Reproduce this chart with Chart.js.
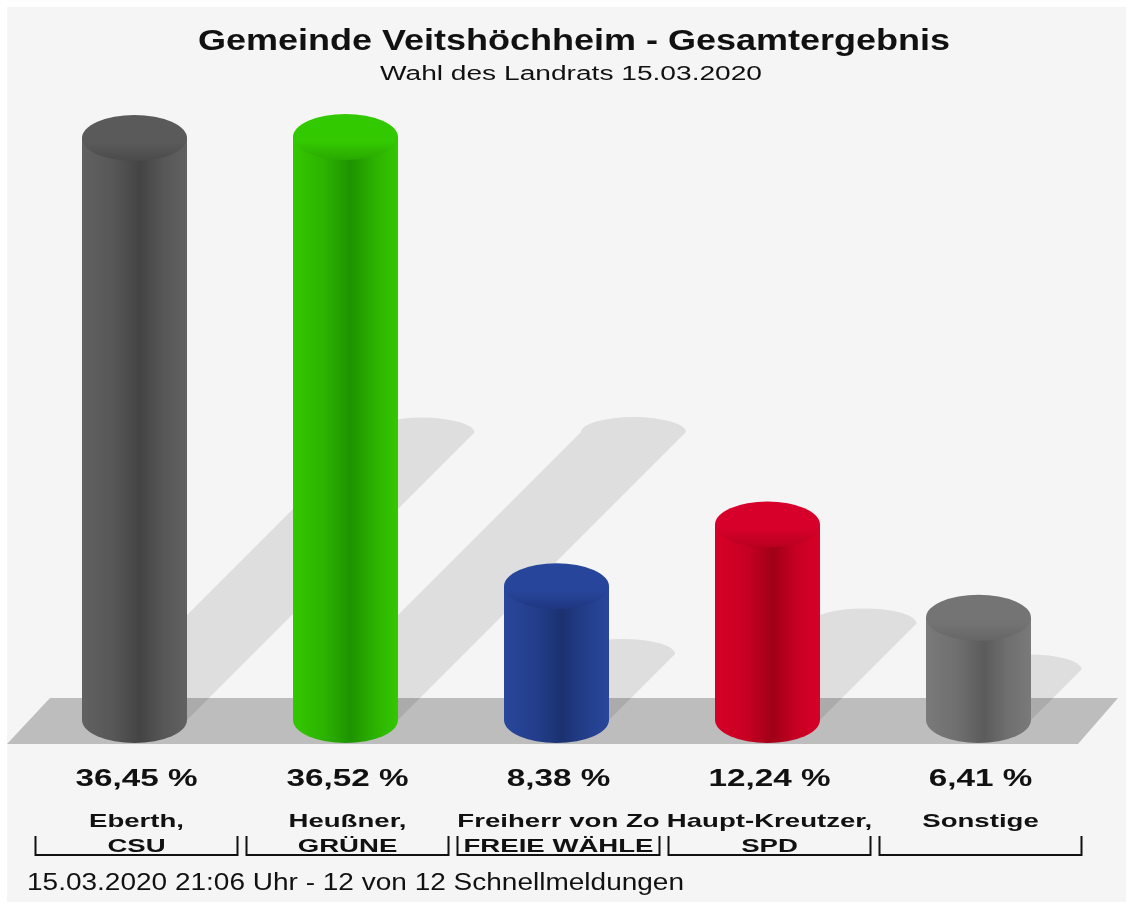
<!DOCTYPE html>
<html><head><meta charset="utf-8">
<script src="https://cdn.jsdelivr.net/npm/chart.js@4/dist/chart.umd.min.js"></script>
<style>html,body{margin:0;padding:0;background:#fff;}#wrap{width:1133px;height:909px;}</style>
</head><body><div id="wrap"><canvas id="c" width="1133" height="909"></canvas></div>
<script>
// ---------- data ----------
const candidates = ['Eberth,', 'Heußner,', 'Freiherr von Zo', 'Haupt-Kreutzer,', 'Sonstige'];
const parties = ['CSU', 'GRÜNE', 'FREIE WÄHLE', 'SPD', ''];
const percentages = [36.45, 36.52, 8.38, 12.24, 6.41];
const titleText = 'Gemeinde Veitshöchheim - Gesamtergebnis';
const subtitleText = 'Wahl des Landrats 15.03.2020';
const footerText = '15.03.2020 21:06 Uhr - 12 von 12 Schnellmeldungen';

// ---------- styles ----------
const barStyles = [
  {light:'#616161', mid:'#575757', dark:'#444444', top:'#5a5a5a', rim:'#4a4a4a'},
  {light:'#34c800', mid:'#2cb200', dark:'#1e9300', top:'#33c900', rim:'#29a800'},
  {light:'#28469b', mid:'#233e8b', dark:'#1b3170', top:'#27459b', rim:'#1f3780'},
  {light:'#d70027', mid:'#c70022', dark:'#a00018', top:'#d6002a', rim:'#b8001f'},
  {light:'#7a7a7a', mid:'#6f6f6f', dark:'#5b5b5b', top:'#747474', rim:'#666666'}
];
const FONT = '"Liberation Sans", Arial, sans-serif';

function fmtPct(v){ return v.toFixed(2).replace('.', ',') + ' %'; }

function scaleFor(ctx, font, str, target){
  ctx.save(); ctx.font = font; const w = ctx.measureText(str).width; ctx.restore();
  return target / w;
}
function drawText(ctx, str, x, y, font, sx, align){
  ctx.save();
  ctx.font = font; ctx.fillStyle = '#111'; ctx.textAlign = align || 'center'; ctx.textBaseline = 'alphabetic';
  ctx.translate(x, y); ctx.scale(sx, 1); ctx.fillText(str, 0, 0);
  ctx.restore();
}

const cylinderPlugin = {
  id: 'cylinders',
  beforeDraw(chart){
    const ctx = chart.ctx;
    ctx.save();
    ctx.fillStyle = '#ffffff'; ctx.fillRect(0,0,chart.width,chart.height);
    ctx.fillStyle = '#f5f5f5'; ctx.fillRect(7,7,1119,895);
    ctx.restore();
  },
  afterDatasetsDraw(chart){
    const ctx = chart.ctx, area = chart.chartArea;
    const meta = chart.getDatasetMeta(0);
    const base = chart.scales.y.getPixelForValue(0);
    const ry = 23;
    // floor
    ctx.save();
    ctx.fillStyle = '#bdbdbd';
    ctx.beginPath();
    ctx.moveTo(area.left - 22, base + 24);
    ctx.lineTo(area.left + 21, base - 22);
    ctx.lineTo(area.right + 34, base - 22);
    ctx.lineTo(area.right - 6, base + 24);
    ctx.closePath(); ctx.fill();
    // shadows
    ctx.fillStyle = 'rgba(0,0,0,0.095)';
    meta.data.forEach(el => {
      const rx = el.width / 2, cx = el.x;
      const h = base - el.y, t = h * 0.494;
      ctx.beginPath();
      ctx.moveTo(cx - rx, base);
      ctx.lineTo(cx - rx + t, base - t);
      ctx.ellipse(cx + t, base - t, rx, 15, 0, Math.PI, 2 * Math.PI, false);
      ctx.lineTo(cx + rx, base);
      ctx.closePath(); ctx.fill();
    });
    // cylinders
    meta.data.forEach((el, i) => {
      const s = barStyles[i];
      const rx = el.width / 2, cx = el.x, top = el.y;
      const g = ctx.createLinearGradient(cx - rx, 0, cx + rx, 0);
      g.addColorStop(0, s.light);
      g.addColorStop(0.3, s.mid);
      g.addColorStop(0.55, s.dark);
      g.addColorStop(0.78, s.mid);
      g.addColorStop(1, s.light);
      ctx.fillStyle = g;
      ctx.beginPath();
      ctx.moveTo(cx - rx, top);
      ctx.lineTo(cx - rx, base);
      ctx.ellipse(cx, base, rx, ry, 0, Math.PI, 0, true);
      ctx.lineTo(cx + rx, top);
      ctx.closePath(); ctx.fill();
      const tg = ctx.createLinearGradient(0, top - ry, 0, top + ry);
      tg.addColorStop(0, s.top);
      tg.addColorStop(0.6, s.top);
      tg.addColorStop(1, s.rim);
      ctx.fillStyle = tg;
      ctx.beginPath();
      ctx.ellipse(cx, top, rx, ry, 0, 0, 2 * Math.PI);
      ctx.fill();
    });
    ctx.restore();
  },
  afterDraw(chart){
    const ctx = chart.ctx;
    const meta = chart.getDatasetMeta(0);
    const fTitle = 'bold 29px ' + FONT;
    const fSub = '20px ' + FONT;
    const fPct = 'bold 24px ' + FONT;
    const fCat = 'bold 19px ' + FONT;
    const fFoot = '23px ' + FONT;
    drawText(ctx, titleText, 574, 50, fTitle, scaleFor(ctx, fTitle, titleText, 752), 'center');
    drawText(ctx, subtitleText, 571, 80, fSub, scaleFor(ctx, fSub, subtitleText, 382), 'center');
    const sxPct = scaleFor(ctx, fPct, fmtPct(percentages[0]), 122);
    const sxCat = scaleFor(ctx, fCat, candidates[0], 95);
    meta.data.forEach((el, i) => {
      const cx = el.x + 2;
      drawText(ctx, fmtPct(percentages[i]), cx, 786, fPct, sxPct, 'center');
      drawText(ctx, candidates[i], cx, 827, fCat, sxCat, 'center');
      if (parties[i]) drawText(ctx, parties[i], cx, 852, fCat, sxCat, 'center');
      ctx.save();
      ctx.strokeStyle = '#111'; ctx.lineWidth = 2;
      ctx.beginPath();
      ctx.moveTo(cx - 101, 836); ctx.lineTo(cx - 101, 855); ctx.lineTo(cx + 101, 855); ctx.lineTo(cx + 101, 836);
      ctx.stroke();
      ctx.restore();
    });
    drawText(ctx, footerText, 27, 890, fFoot, scaleFor(ctx, fFoot, footerText, 657), 'left');
  }
};

new Chart(document.getElementById('c'), {
  type: 'bar',
  data: {
    labels: candidates.map((c, i) => [c, parties[i]]),
    datasets: [{
      data: percentages,
      backgroundColor: 'rgba(0,0,0,0)',
      borderWidth: 0,
      categoryPercentage: 1,
      barPercentage: 0.4976
    }]
  },
  options: {
    responsive: false,
    animation: false,
    devicePixelRatio: 1,
    layout: { padding: { left: 29, right: 49, top: 81.44, bottom: 189 } },
    scales: {
      x: { display: false },
      y: { display: false, min: 0, max: 40 }
    },
    plugins: { legend: { display: false }, tooltip: { enabled: false }, title: { display: false } }
  },
  plugins: [cylinderPlugin]
});
</script>
</body></html>
